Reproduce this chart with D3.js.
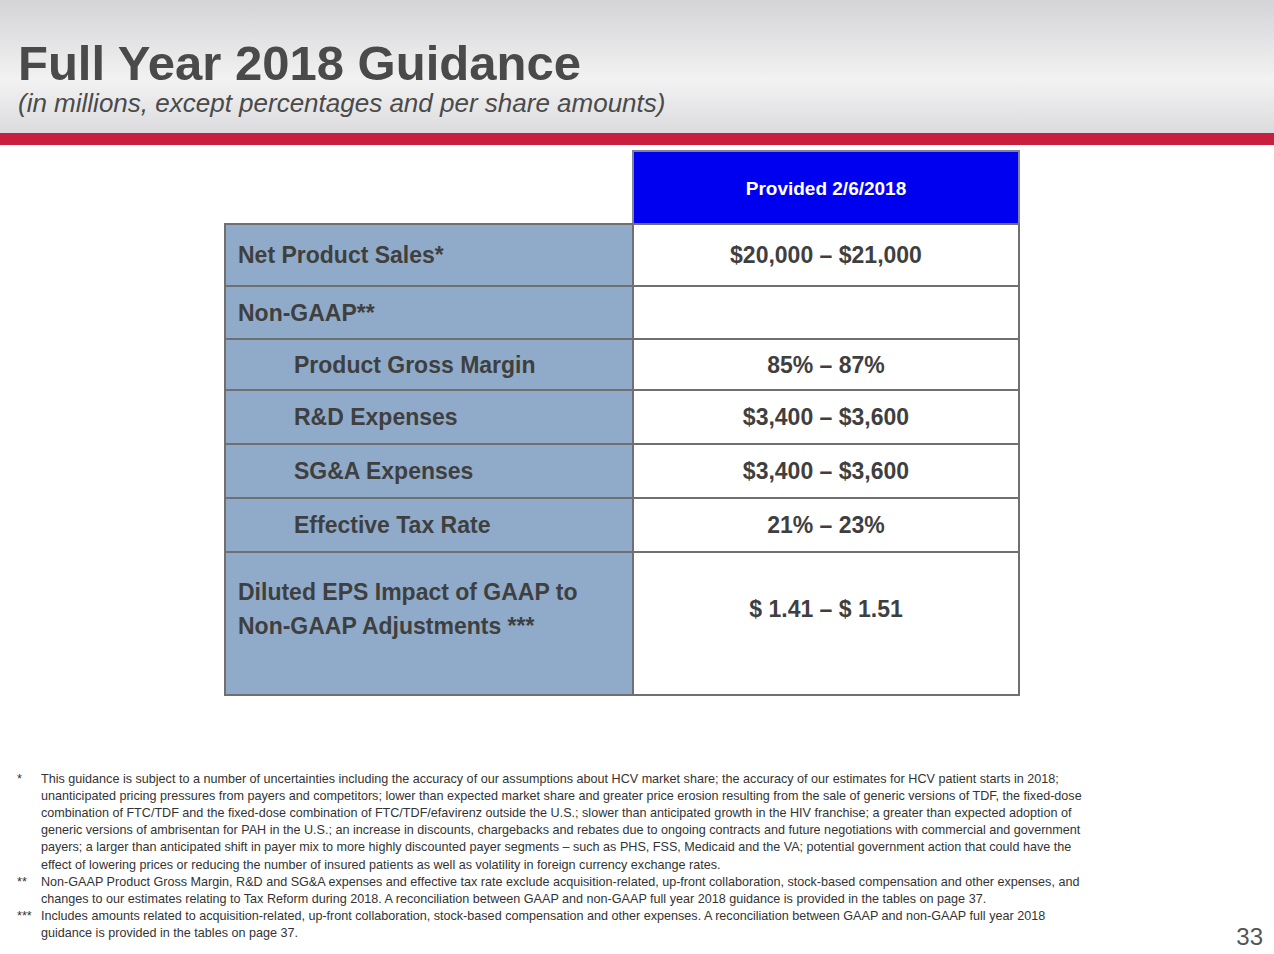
<!DOCTYPE html>
<html><head><meta charset="utf-8">
<script src="https://cdn.jsdelivr.net/npm/d3@7"></script>
<style>body{margin:0;background:#fff}svg{display:block}</style>
</head><body><svg id="c" width="1274" height="954"></svg>
<script>
const header = "Provided 2/6/2018";
const labels = ["Net Product Sales*","Non-GAAP**","Product Gross Margin","R&D Expenses","SG&A Expenses","Effective Tax Rate",["Diluted EPS Impact of GAAP to","Non-GAAP Adjustments ***"]];
const indents = [0,0,1,1,1,1,0];
const values = ["$20,000 – $21,000","","85% – 87%","$3,400 – $3,600","$3,400 – $3,600","21% – 23%","$ 1.41 – $ 1.51"];
const rowHeights = [62,53,51,54,54,54,143];
const footnotes = [
["*","This guidance is subject to a number of uncertainties including the accuracy of our assumptions about HCV market share; the accuracy of our estimates for HCV patient starts in 2018;"],
["","unanticipated pricing pressures from payers and competitors; lower than expected market share and greater price erosion resulting from the sale of generic versions of TDF, the fixed-dose"],
["","combination of FTC/TDF and the fixed-dose combination of FTC/TDF/efavirenz outside the U.S.; slower than anticipated growth in the HIV franchise; a greater than expected adoption of"],
["","generic versions of ambrisentan for PAH in the U.S.; an increase in discounts, chargebacks and rebates due to ongoing contracts and future negotiations with commercial and government"],
["","payers; a larger than anticipated shift in payer mix to more highly discounted payer segments – such as PHS, FSS, Medicaid and the VA; potential government action that could have the"],
["","effect of lowering prices or reducing the number of insured patients as well as volatility in foreign currency exchange rates."],
["**","Non-GAAP Product Gross Margin, R&D and SG&A expenses and effective tax rate exclude acquisition-related, up-front collaboration, stock-based compensation and other expenses, and"],
["","changes to our estimates relating to Tax Reform during 2018. A reconciliation between GAAP and non-GAAP full year 2018 guidance is provided in the tables on page 37."],
["***","Includes amounts related to acquisition-related, up-front collaboration, stock-based compensation and other expenses. A reconciliation between GAAP and non-GAAP full year 2018"],
["","guidance is provided in the tables on page 37."]];

const svg = d3.select("#c");
const defs = svg.append("defs");
const g = defs.append("linearGradient").attr("id","bg").attr("x1",0).attr("y1",0).attr("x2",0).attr("y2",1);
g.append("stop").attr("offset",0).attr("stop-color","#d4d4d6");
g.append("stop").attr("offset",0.6).attr("stop-color","#f2f2f3");
g.append("stop").attr("offset",1).attr("stop-color","#dcdcde");
svg.append("rect").attr("x",0).attr("y",0).attr("width",1274).attr("height",133).attr("fill","url(#bg)");
svg.append("rect").attr("x",0).attr("y",133).attr("width",1274).attr("height",12).attr("fill","#c71f3d");
svg.append("text").attr("x",18).attr("y",80).attr("font-family","Liberation Sans, Arial").attr("font-weight","bold").attr("font-size",49).attr("fill","#4a4a4a").text("Full Year 2018 Guidance");
svg.append("text").attr("x",18).attr("y",112).attr("font-family","Liberation Sans, Arial").attr("font-style","italic").attr("font-size",26).attr("fill","#4a4a4a").text("(in millions, except percentages and per share amounts)");

const x0=225,x1=633,x2=1019, topY=151, headH=73;
const font="Liberation Sans, Arial";
svg.append("rect").attr("x",x1).attr("y",topY).attr("width",x2-x1).attr("height",headH).attr("fill","#0000f0").attr("stroke","#8080a0").attr("stroke-width",2);
svg.append("text").attr("x",(x1+x2)/2).attr("y",195).attr("text-anchor","middle").attr("font-family",font).attr("font-weight","bold").attr("font-size",19).attr("fill","#fff").text(header);

const ys=[topY+headH]; rowHeights.forEach(h=>ys.push(ys[ys.length-1]+h));
const rows = svg.append("g").selectAll("g").data(labels).join("g");
rows.append("rect").attr("x",x0).attr("y",(d,i)=>ys[i]).attr("width",x1-x0).attr("height",(d,i)=>rowHeights[i]).attr("fill","#8fabc9").attr("stroke","#707070").attr("stroke-width",2);
rows.append("rect").attr("x",x1).attr("y",(d,i)=>ys[i]).attr("width",x2-x1).attr("height",(d,i)=>rowHeights[i]).attr("fill","#fff").attr("stroke","#707070").attr("stroke-width",2);
rows.each(function(d,i){
  const sel=d3.select(this), mid=ys[i]+rowHeights[i]/2;
  const lines=Array.isArray(d)?d:[d];
  lines.forEach((t,k)=>{
    sel.append("text").attr("x",x0+13+indents[i]*56).attr("y",mid+8+(k-(lines.length-1)/2)*34 - (i==6?15:0))
      .attr("font-family",font).attr("font-weight","bold").attr("font-size",23).attr("fill","#3f3f3f").text(t);
  });
  sel.append("text").attr("x",(x1+x2)/2).attr("y",mid+8 - (i==6?15:0)).attr("text-anchor","middle")
    .attr("font-family",font).attr("font-weight","bold").attr("font-size",23).attr("fill","#3f3f3f").text(values[i]);
});

const fn = svg.append("g").attr("font-family",font).attr("font-size",12.6).attr("fill","#333");
footnotes.forEach((f,i)=>{
  const y=783+i*17.1;
  fn.append("text").attr("x",17).attr("y",y).text(f[0]);
  fn.append("text").attr("x",41).attr("y",y).text(f[1]);
});
svg.append("text").attr("x",1263).attr("y",945).attr("text-anchor","end").attr("font-family",font).attr("font-size",24).attr("fill","#555").text("33");
</script></body></html>
